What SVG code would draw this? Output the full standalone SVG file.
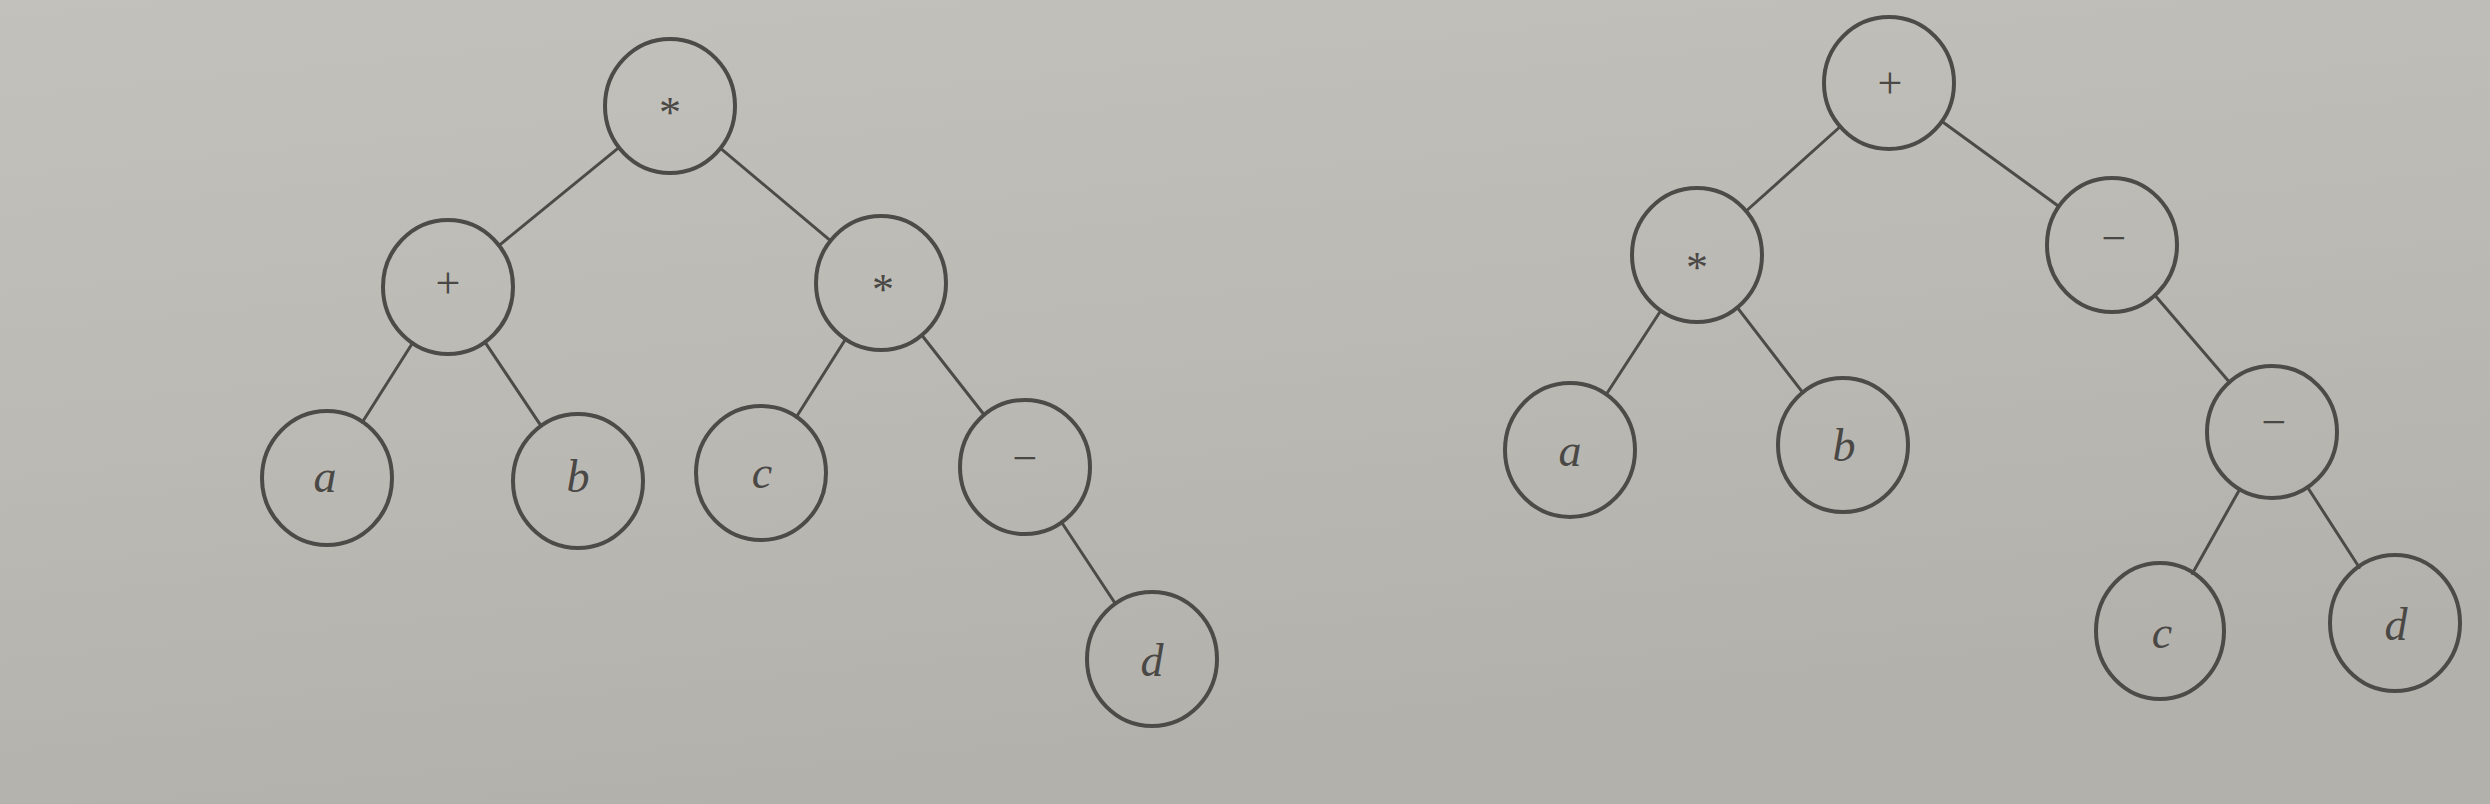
<svg xmlns="http://www.w3.org/2000/svg" width="2490" height="804" viewBox="0 0 2490 804">
<defs>
<linearGradient id="paper" x1="0" y1="0" x2="0.3" y2="1">
<stop offset="0" stop-color="#c2c1bc"/>
<stop offset="0.5" stop-color="#bcbab5"/>
<stop offset="1" stop-color="#b3b1ac"/>
</linearGradient>
</defs>
<style>
.node ellipse{fill:none;stroke:#4d4b48;stroke-width:4}
.edges line{stroke:#4d4b48;stroke-width:3;stroke-linecap:round}
.op{font-family:"Liberation Serif",serif;font-size:44px;fill:#4a4845;text-anchor:middle}
.var{font-family:"Liberation Serif",serif;font-style:italic;font-size:46px;fill:#4a4845;text-anchor:middle}
</style>
<rect x="0" y="0" width="2490" height="804" fill="url(#paper)"/>
<g id="connectors" class="edges">
<line x1="618.8" y1="147.7" x2="499.2" y2="245.3"/>
<line x1="720.6" y1="148.4" x2="830.4" y2="240.6"/>
<line x1="412.7" y1="342.8" x2="362.3" y2="422.2"/>
<line x1="484.8" y1="341.8" x2="541.2" y2="426.2"/>
<line x1="845.8" y1="338.8" x2="796.2" y2="417.2"/>
<line x1="921.7" y1="335" x2="984.3" y2="415"/>
<line x1="1061.4" y1="522" x2="1115.6" y2="604"/>
<line x1="1839.8" y1="127" x2="1746.2" y2="211"/>
<line x1="1942.4" y1="121.8" x2="2058.6" y2="206.2"/>
<line x1="1661" y1="310.3" x2="1606" y2="394.7"/>
<line x1="1737.2" y1="307.3" x2="1802.8" y2="392.7"/>
<line x1="2154.9" y1="295.2" x2="2229.1" y2="381.8"/>
<line x1="2239.6" y1="489.5" x2="2192.4" y2="573.5"/>
<line x1="2307.7" y1="487.5" x2="2359.3" y2="567.5"/>
</g>
<g id="L-root" class="node"><ellipse cx="670" cy="106" rx="65" ry="67"/><text class="op" x="670" y="127">*</text></g>
<g id="L-plus" class="node"><ellipse cx="448" cy="287" rx="65" ry="67"/><text class="op" x="448" y="298">+</text></g>
<g id="L-mul" class="node"><ellipse cx="881" cy="283" rx="65" ry="67"/><text class="op" x="883" y="304">*</text></g>
<g id="L-a" class="node"><ellipse cx="327" cy="478" rx="65" ry="67"/><text class="var" x="325" y="492">a</text></g>
<g id="L-b" class="node"><ellipse cx="578" cy="481" rx="65" ry="67"/><text class="var" x="578" y="492">b</text></g>
<g id="L-c" class="node"><ellipse cx="761" cy="473" rx="65" ry="67"/><text class="var" x="762" y="488">c</text></g>
<g id="L-minus" class="node"><ellipse cx="1025" cy="467" rx="65" ry="67"/><text class="op" x="1025" y="473">−</text></g>
<g id="L-d" class="node"><ellipse cx="1152" cy="659" rx="65" ry="67"/><text class="var" x="1152" y="676">d</text></g>
<g id="R-root" class="node"><ellipse cx="1889" cy="83" rx="65" ry="66"/><text class="op" x="1890" y="98">+</text></g>
<g id="R-mul" class="node"><ellipse cx="1697" cy="255" rx="65" ry="67"/><text class="op" x="1697" y="282">*</text></g>
<g id="R-minus1" class="node"><ellipse cx="2112" cy="245" rx="65" ry="67"/><text class="op" x="2114" y="253">−</text></g>
<g id="R-a" class="node"><ellipse cx="1570" cy="450" rx="65" ry="67"/><text class="var" x="1570" y="466">a</text></g>
<g id="R-b" class="node"><ellipse cx="1843" cy="445" rx="65" ry="67"/><text class="var" x="1844" y="461">b</text></g>
<g id="R-minus2" class="node"><ellipse cx="2272" cy="432" rx="65" ry="66"/><text class="op" x="2274" y="437">−</text></g>
<g id="R-c" class="node"><ellipse cx="2160" cy="631" rx="64" ry="68"/><text class="var" x="2162" y="648">c</text></g>
<g id="R-d" class="node"><ellipse cx="2395" cy="623" rx="65" ry="68"/><text class="var" x="2396" y="640">d</text></g>
</svg>
